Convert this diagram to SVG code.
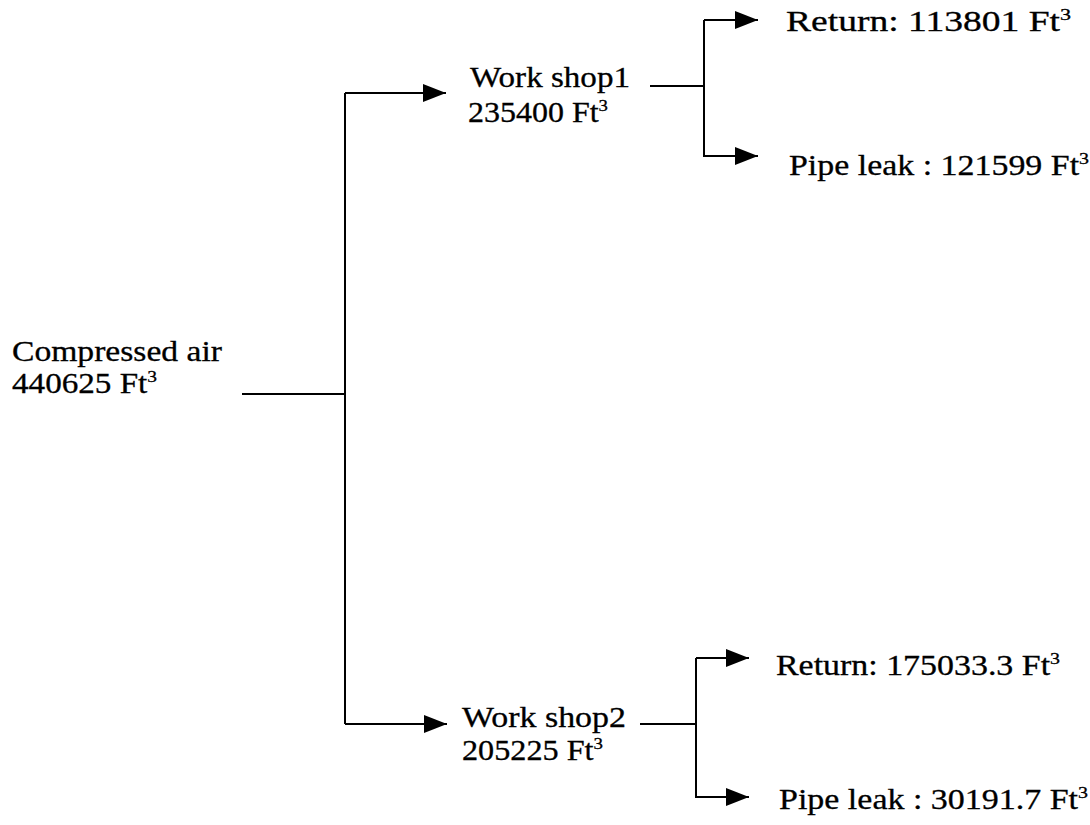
<svg xmlns="http://www.w3.org/2000/svg" width="1090" height="825" viewBox="0 0 1090 825">
<style>
  .t { font-family: "Liberation Serif", "Times New Roman", serif; font-size: 29px; fill: #000; stroke: #000; stroke-width: 0.3; }
  .sup { font-size: 17px; }
  .c { fill: none; stroke: #000; stroke-width: 2; }
</style>
<defs>
  <marker id="arr" viewBox="0 0 23 18" refX="23" refY="9" markerWidth="23" markerHeight="18" markerUnits="userSpaceOnUse" orient="auto">
    <path d="M0,0 L23,9 L0,18 Z" fill="#000"/>
  </marker>
</defs>
<rect width="1090" height="825" fill="#fff"/>
<g id="connectors">
  <path class="c" d="M242,394 H345"/>
  <path class="c" d="M345,93 V724"/>
  <path class="c" d="M345,93 H446" marker-end="url(#arr)"/>
  <path class="c" d="M345,724 H447" marker-end="url(#arr)"/>
  <path class="c" d="M650,86 H704"/>
  <path class="c" d="M704,20 V157"/>
  <path class="c" d="M704,20 H758" marker-end="url(#arr)"/>
  <path class="c" d="M704,156 H758" marker-end="url(#arr)"/>
  <path class="c" d="M640,724 H696"/>
  <path class="c" d="M696,658 V798"/>
  <path class="c" d="M696,658 H749" marker-end="url(#arr)"/>
  <path class="c" d="M696,797 H749" marker-end="url(#arr)"/>
</g>
<g id="compressed-air">
  <text class="t" x="12" y="361" textLength="210" lengthAdjust="spacingAndGlyphs">Compressed air</text>
  <text class="t" x="12" y="393" textLength="145" lengthAdjust="spacingAndGlyphs">440625 Ft<tspan class="sup" dy="-11">3</tspan></text>
</g>
<g id="workshop1">
  <text class="t" x="470" y="87" textLength="160" lengthAdjust="spacingAndGlyphs">Work shop1</text>
  <text class="t" x="468" y="122" textLength="140" lengthAdjust="spacingAndGlyphs">235400 Ft<tspan class="sup" dy="-11">3</tspan></text>
</g>
<g id="return1">
  <text class="t" x="786" y="31" textLength="285" lengthAdjust="spacingAndGlyphs">Return: 113801 Ft<tspan class="sup" dy="-11">3</tspan></text>
</g>
<g id="pipeleak1">
  <text class="t" x="789" y="175" textLength="300" lengthAdjust="spacingAndGlyphs">Pipe leak : 121599 Ft<tspan class="sup" dy="-11">3</tspan></text>
</g>
<g id="workshop2">
  <text class="t" x="462" y="727" textLength="164" lengthAdjust="spacingAndGlyphs">Work shop2</text>
  <text class="t" x="462" y="760" textLength="141" lengthAdjust="spacingAndGlyphs">205225 Ft<tspan class="sup" dy="-11">3</tspan></text>
</g>
<g id="return2">
  <text class="t" x="776" y="675" textLength="284" lengthAdjust="spacingAndGlyphs">Return: 175033.3 Ft<tspan class="sup" dy="-11">3</tspan></text>
</g>
<g id="pipeleak2">
  <text class="t" x="779" y="809" textLength="309" lengthAdjust="spacingAndGlyphs">Pipe leak : 30191.7 Ft<tspan class="sup" dy="-11">3</tspan></text>
</g>
</svg>
